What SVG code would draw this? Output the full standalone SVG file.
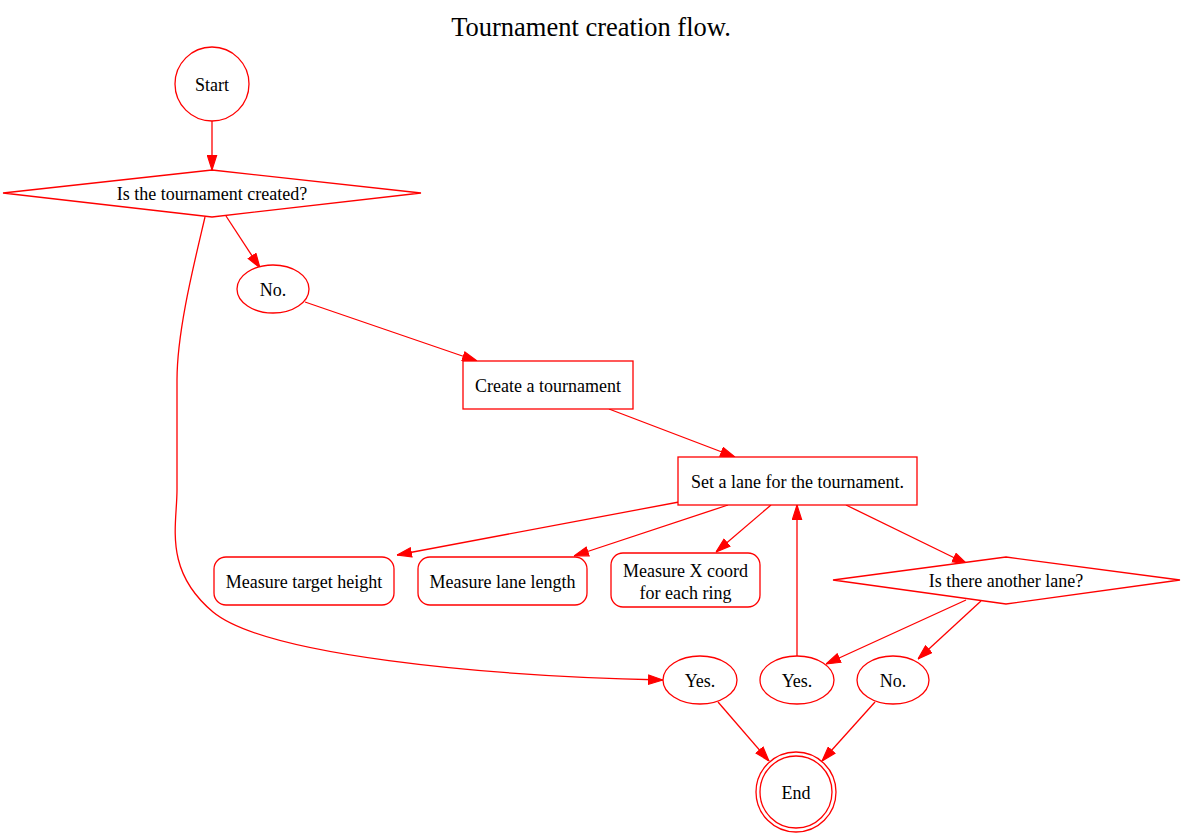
<svg xmlns="http://www.w3.org/2000/svg" width="1182" height="837" viewBox="0 0 1182 837">
<style>
.n{fill:#fff;stroke:#f00;stroke-width:1.3}
.e{fill:none;stroke:#f00;stroke-width:1.3}
text{font-family:"Liberation Serif","Times New Roman",serif;font-size:18px;fill:#000;text-anchor:middle}
.t{font-size:26.5px}
</style>
<defs>
<marker id="a" markerUnits="userSpaceOnUse" markerWidth="15" markerHeight="11" refX="13" refY="4.5" orient="auto" viewBox="0 0 13 9">
<path d="M0.5,0.5 L13,4.5 L0.5,8.5 z" fill="#f00" stroke="#f00" stroke-width="1"/>
</marker>
</defs>
<rect width="1182" height="837" fill="#fff"/>
<text class="t" x="591" y="36">Tournament creation flow.</text>
<g id="edges">
<path class="e" marker-end="url(#a)" d="M212,121 L212,170"/>
<path class="e" marker-end="url(#a)" d="M226,216 L260,268"/>
<path class="e" marker-end="url(#a)" d="M205,217 C195,260 177,330 177,380 L177,490 C177,525 163,570 213,612 C265,655 480,676 663,680"/>
<path class="e" marker-end="url(#a)" d="M305,302 L477,361"/>
<path class="e" marker-end="url(#a)" d="M609,409 L735,457"/>
<path class="e" marker-end="url(#a)" d="M679,502 L397,555"/>
<path class="e" marker-end="url(#a)" d="M728,505 L574,556"/>
<path class="e" marker-end="url(#a)" d="M771,505 L716,552"/>
<path class="e" marker-end="url(#a)" d="M846,505 L967,564"/>
<path class="e" marker-end="url(#a)" d="M797,656 L797,505"/>
<path class="e" marker-end="url(#a)" d="M966,600 L826,664"/>
<path class="e" marker-end="url(#a)" d="M981,601 L918,659"/>
<path class="e" marker-end="url(#a)" d="M718,702 L769,761"/>
<path class="e" marker-end="url(#a)" d="M875,702 L822,761"/>
</g>
<g id="start"><circle class="n" cx="212" cy="84" r="37"/><text x="212" y="91">Start</text></g>
<g id="created"><polygon class="n" points="212,170 421,193 212,217 3,193"/><text x="212" y="200">Is the tournament created?</text></g>
<g id="no1"><ellipse class="n" cx="273" cy="289" rx="36" ry="24"/><text x="273" y="296">No.</text></g>
<g id="create"><rect class="n" x="463" y="361" width="170" height="48"/><text x="548" y="392">Create a tournament</text></g>
<g id="setlane"><rect class="n" x="678" y="457" width="239" height="48"/><text x="797.5" y="488">Set a lane for the tournament.</text></g>
<g id="height"><rect class="n" x="214" y="557" width="180" height="48" rx="12"/><text x="304" y="588">Measure target height</text></g>
<g id="length"><rect class="n" x="418" y="557" width="169" height="48" rx="12"/><text x="502.5" y="588">Measure lane length</text></g>
<g id="xcoord"><rect class="n" x="611" y="553" width="149" height="54" rx="12"/><text x="685.5" y="577">Measure X coord</text><text x="685.5" y="599">for each ring</text></g>
<g id="another"><polygon class="n" points="1006,557 1180,580 1006,604 833,580"/><text x="1006" y="587">Is there another lane?</text></g>
<g id="yes1"><ellipse class="n" cx="700" cy="680" rx="37" ry="24"/><text x="700" y="687">Yes.</text></g>
<g id="yes2"><ellipse class="n" cx="797" cy="680" rx="37" ry="24"/><text x="797" y="687">Yes.</text></g>
<g id="no2"><ellipse class="n" cx="893" cy="680" rx="36" ry="24"/><text x="893" y="687">No.</text></g>
<g id="end"><circle class="n" cx="796" cy="792" r="40"/><circle class="n" cx="796" cy="792" r="36"/><text x="796" y="799">End</text></g>
</svg>
